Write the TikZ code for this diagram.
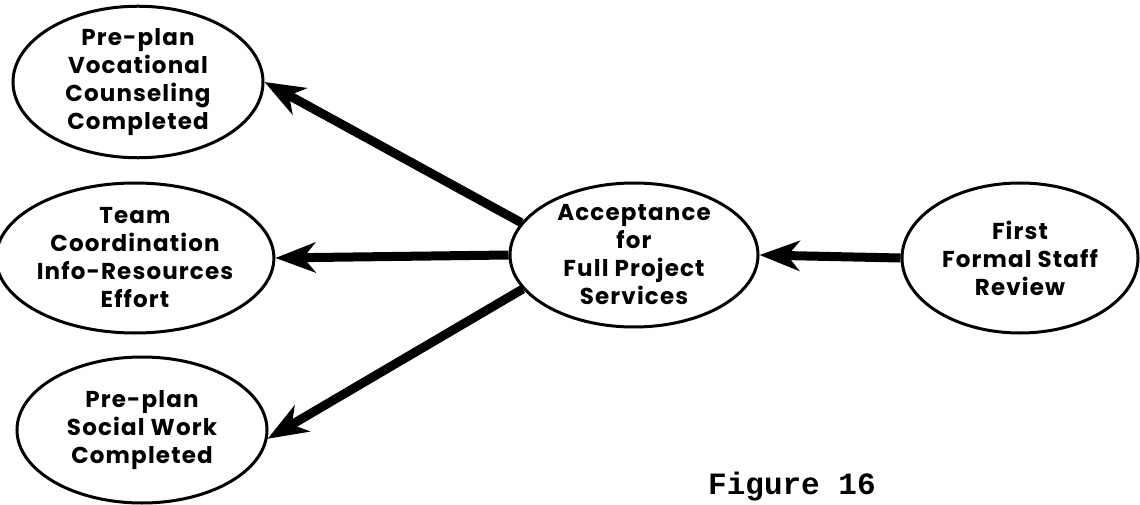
\documentclass[tikz,border=0pt]{standalone}
\usepackage{fontspec}
\setmainfont{Poppins}
\newfontfamily\capfont{Liberation Mono}
\usetikzlibrary{shapes.geometric,arrows.meta}
\begin{document}
\begin{tikzpicture}[x=1pt,y=1pt,
  oval/.style={ellipse,draw,line width=3pt,inner sep=0pt,align=center,
    font=\fontsize{23}{28}\selectfont\bfseries\addfontfeatures{LetterSpace=5}},
  flow/.style={line width=9pt,-{Stealth[length=40pt,width=30pt,inset=12pt]}}]
\useasboundingbox[fill=white] (0,0) rectangle (1140,504);
\node[oval,minimum width=250pt,minimum height=146pt] (e1) at (138,422)
  {Pre-plan\\Vocational\\Counseling\\Completed};
\node[oval,minimum width=260pt,minimum height=150pt] (e2) at (135,246)
  {Team\\Coordination\\Info-Resources\\Effort};
\node[oval,minimum width=250pt,minimum height=146pt] (e3) at (142,74)
  {Pre-plan\\Social Work\\Completed};
\node[oval,minimum width=248pt,minimum height=144pt] (ec) at (634,249)
  {Acceptance\\for\\Full Project\\Services};
\node[oval,minimum width=236pt,minimum height=150pt] (er) at (1020,246)
  {First\\Formal Staff\\Review};
\draw[flow] (ec.164) -- (e1.east);
\draw[flow] (ec.west) -- (e2.east);
\draw[flow] (ec.197) -- (e3.-4);
\draw[flow] (er.west) -- (ec.east);
\node[anchor=base west,inner sep=0pt,font=\capfont\bfseries\fontsize{31}{36}\selectfont] (cap) at (708,10) {Figure 16};
\end{tikzpicture}
\end{document}
